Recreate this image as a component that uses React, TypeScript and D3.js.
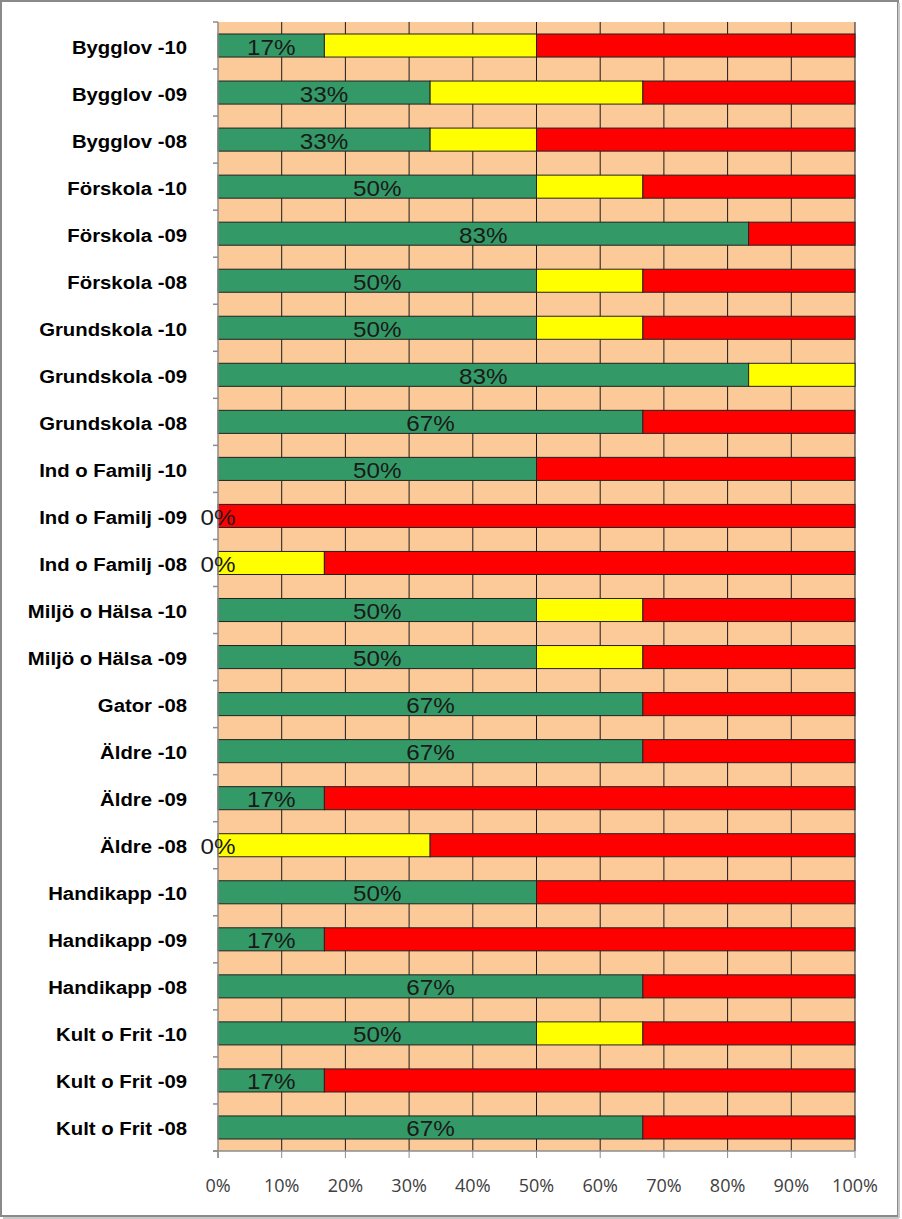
import React from "react";
import * as d3 from "d3";

const categories = [
  "Bygglov -10", "Bygglov -09", "Bygglov -08",
  "Förskola -10", "Förskola -09", "Förskola -08",
  "Grundskola -10", "Grundskola -09", "Grundskola -08",
  "Ind o Familj -10", "Ind o Familj -09", "Ind o Familj -08",
  "Miljö o Hälsa -10", "Miljö o Hälsa -09", "Gator -08",
  "Äldre -10", "Äldre -09", "Äldre -08",
  "Handikapp -10", "Handikapp -09", "Handikapp -08",
  "Kult o Frit -10", "Kult o Frit -09", "Kult o Frit -08",
];

const greenValues = [16.7, 33.3, 33.3, 50, 83.3, 50, 50, 83.3, 66.7, 50, 0, 0, 50, 50, 66.7, 66.7, 16.7, 0, 50, 16.7, 66.7, 50, 16.7, 66.7];
const yellowValues = [33.3, 33.4, 16.7, 16.7, 0, 16.7, 16.7, 16.7, 0, 0, 0, 16.7, 16.7, 16.7, 0, 0, 0, 33.3, 0, 0, 0, 16.7, 0, 0];
const redValues = [50, 33.3, 50, 33.3, 16.7, 33.3, 33.3, 0, 33.3, 50, 100, 83.3, 33.3, 33.3, 33.3, 33.3, 83.3, 66.7, 50, 83.3, 33.3, 33.3, 83.3, 33.3];

const xTicks = [0, 10, 20, 30, 40, 50, 60, 70, 80, 90, 100];

const seriesColors = ["#339966", "#FFFF00", "#FF0000"];

export default function App() {
  const W = 902, H = 1219;
  const left = 218, right = 855, top = 22, bottom = 1151;
  const x = d3.scaleLinear().domain([0, 100]).range([left, right]);
  const y = d3.scaleBand<string>().domain(categories).range([top, bottom]).paddingInner(0.51).paddingOuter(0.255);
  const band = (bottom - top) / categories.length;

  const rows = categories.map((c, i) => ({ cat: c, g: greenValues[i], yv: yellowValues[i], r: redValues[i] }));
  const stack = d3.stack<any>().keys(["g", "yv", "r"])(rows);

  return (
    <svg width={W} height={H} style={{ position: "absolute", left: 0, top: 0 }} xmlns="http://www.w3.org/2000/svg">
      <rect x={0} y={0} width={W} height={H} fill="#ffffff" />
      <rect x={1} y={1} width={897} height={1215} fill="#ffffff" stroke="#8a8a8a" strokeWidth={2} />
      <line x1={899} y1={3} x2={899} y2={1218} stroke="#c8c8c8" strokeWidth={2} />
      <line x1={3} y1={1218} x2={899} y2={1218} stroke="#c8c8c8" strokeWidth={2} />
      {/* plot background */}
      <rect x={left} y={top} width={right - left} height={bottom - top} fill="#FCC998" />
      {/* gridlines */}
      {xTicks.slice(1).map((t) => (
        <line key={"g" + t} x1={x(t)} x2={x(t)} y1={top} y2={bottom} stroke="#1a1a1a" strokeWidth={1} />
      ))}
      {/* bars */}
      {stack.map((s, si) =>
        s.map((d, i) => {
          const w = x(d[1]) - x(d[0]);
          if (w <= 0) return null;
          return (
            <rect key={si + "-" + i} x={x(d[0])} y={y(categories[i])} width={w} height={y.bandwidth()}
              fill={seriesColors[si]} stroke="#222" strokeWidth={1} />
          );
        })
      )}
      {/* axes */}
      <line x1={left} x2={left} y1={top} y2={bottom + 7} stroke="#8c8c8c" strokeWidth={1.5} />
      <line x1={left - 5} x2={right} y1={bottom} y2={bottom} stroke="#8c8c8c" strokeWidth={1.5} />
      {d3.range(categories.length + 1).map((i) => (
        <line key={"yt" + i} x1={left - 5} x2={left} y1={top + i * band} y2={top + i * band} stroke="#8c8c8c" strokeWidth={1.5} />
      ))}
      {xTicks.map((t) => (
        <line key={"xt" + t} x1={x(t)} x2={x(t)} y1={bottom} y2={bottom + 7} stroke="#8c8c8c" strokeWidth={1} />
      ))}
      {xTicks.map((t) => (
        <text key={"xl" + t} x={x(t)} y={1192} textAnchor="middle" fontFamily="'Open Sans', sans-serif" fontSize={18} fill="#404040">
          {t + "%"}
        </text>
      ))}
      {/* category labels */}
      {categories.map((c) => (
        <text key={"cl" + c} transform={`translate(187,${(y(c) as number) + y.bandwidth() / 2 + 8}) scale(1.07,1)`}
          textAnchor="end" fontFamily="'Liberation Sans', Arial, sans-serif" fontWeight="bold" fontSize={19} fill="#000">
          {c}
        </text>
      ))}
      {/* data labels for green series */}
      {stack[0].map((d, i) => {
        const cx = (x(d[0]) + x(d[1])) / 2;
        return (
          <text key={"dl" + i} transform={`translate(${cx},${(y(categories[i]) as number) + y.bandwidth() / 2 + 9}) scale(1.1,1)`}
            textAnchor="middle" fontFamily="'Liberation Sans', Arial, sans-serif" fontSize={22} fill="#1a1a1a">
            {Math.round(greenValues[i]) + "%"}
          </text>
        );
      })}
    </svg>
  );
}
